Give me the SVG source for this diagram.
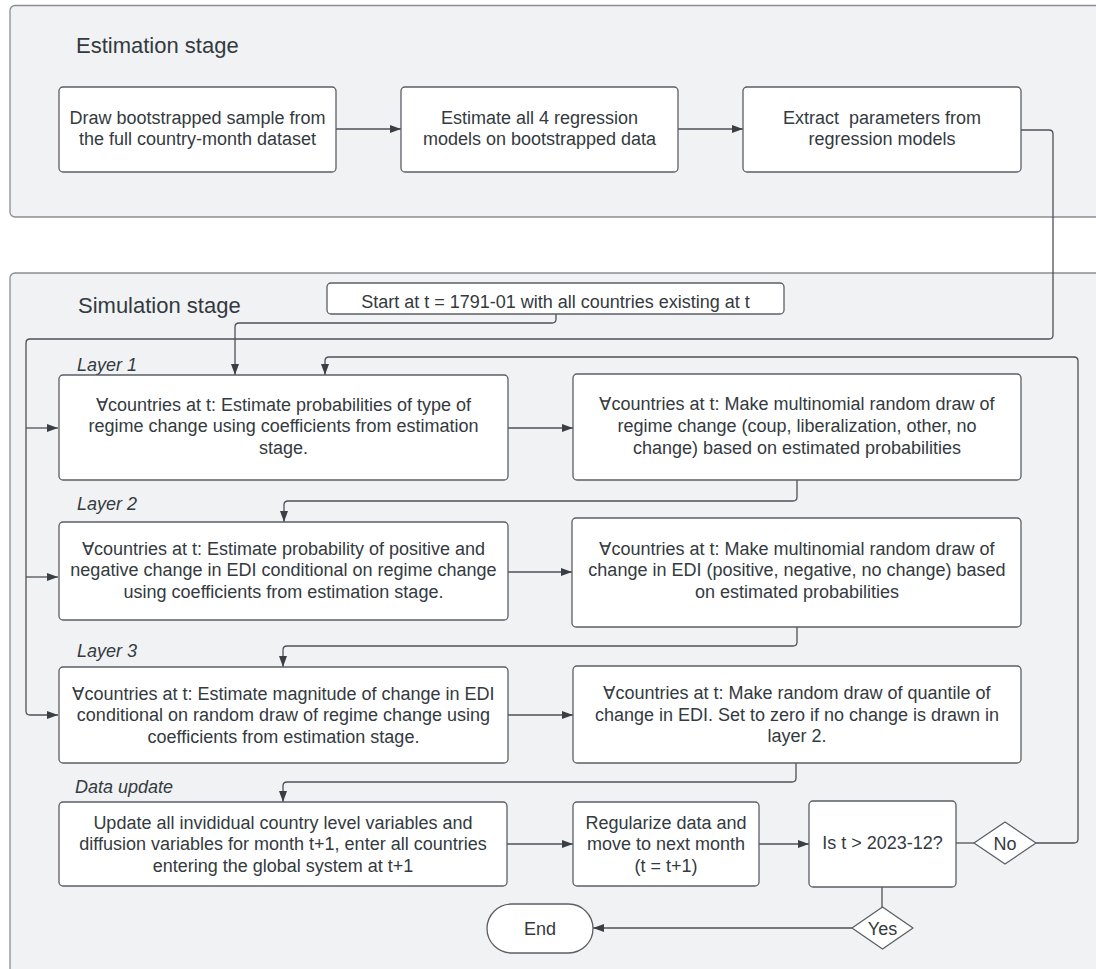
<svg xmlns="http://www.w3.org/2000/svg" width="1096" height="969" viewBox="0 0 1096 969">
<style>
  .cont { fill: #f1f2f4; stroke: #8a8d93; stroke-width: 1.3; }
  .box { fill: #ffffff; stroke: #5b5f66; stroke-width: 1.3; }
  .t { font-family: "Liberation Sans", Arial, sans-serif; font-size: 18px; fill: #333a40; text-anchor: middle; }
  .title { font-family: "Liberation Sans", Arial, sans-serif; font-size: 22px; fill: #333a40; }
  .lab { font-family: "Liberation Sans", Arial, sans-serif; font-size: 18px; font-style: italic; fill: #333a40; }
  .c { fill: none; stroke: #4d525a; stroke-width: 1.3; }
  .ca { fill: none; stroke: #4d525a; stroke-width: 1.3; marker-end: url(#ah); }
</style>
<defs>
  <marker id="ah" viewBox="0 0 11 8" markerWidth="11" markerHeight="8" refX="11" refY="4" orient="auto" markerUnits="userSpaceOnUse">
    <path d="M0,0 L11,4 L0,8 z" fill="#3a3f46"/>
  </marker>
</defs>
<rect x="0" y="0" width="1096" height="969" fill="#ffffff"/>

<g id="estimation-stage">
  <rect class="cont" x="10" y="5.5" width="1100" height="211.5" rx="5"/>
  <text class="title" x="76" y="53">Estimation stage</text>
</g>
<g id="simulation-stage">
  <rect class="cont" x="10" y="273" width="1100" height="720" rx="5"/>
  <text class="title" x="78" y="313">Simulation stage</text>
  <text class="lab" x="77" y="371">Layer 1</text>
  <text class="lab" x="77" y="510">Layer 2</text>
  <text class="lab" x="77" y="657">Layer 3</text>
  <text class="lab" x="75" y="793">Data update</text>
</g>

<g id="connectors">
  <path class="ca" d="M336,129 H401"/>
  <path class="ca" d="M678,129 H743"/>
  <path class="ca" d="M1021,130 H1049 Q1053,130 1053,134 V335 Q1053,339 1049,339 H30 Q26,339 26,343 V711 Q26,715 30,715 H58"/>
  <path class="ca" d="M26,428 H58"/>
  <path class="ca" d="M26,577 H58"/>
  <path class="ca" d="M556,314 V319 Q556,323 552,323 H239 Q235,323 235,327 V375"/>
  <path class="ca" d="M508,428 H573"/>
  <path class="ca" d="M797,480 V497 Q797,501 793,501 H288 Q284,501 284,505 V522"/>
  <path class="ca" d="M508,572 H572"/>
  <path class="ca" d="M797,627 V642 Q797,646 793,646 H287 Q283,646 283,650 V667"/>
  <path class="ca" d="M508,715 H573"/>
  <path class="ca" d="M796,763 V778 Q796,782 792,782 H287 Q283,782 283,786 V802"/>
  <path class="ca" d="M507,844 H573"/>
  <path class="ca" d="M759,844 H809"/>
  <path class="c" d="M956,843 H974"/>
  <path class="ca" d="M1036,843 H1074 Q1078,843 1078,839 V361 Q1078,357 1074,357 H329 Q325,357 325,361 V375"/>
  <path class="c" d="M882,887 V907"/>
  <path class="ca" d="M852,928 H593"/>
</g>

<g id="draw-sample">
  <rect class="box" x="59" y="87" width="277" height="85" rx="4"/>
  <text class="t" x="197.5" y="124">Draw bootstrapped sample from</text>
  <text class="t" x="197.5" y="145">the full country-month dataset</text>
</g>
<g id="estimate-models">
  <rect class="box" x="401" y="87" width="277" height="85" rx="4"/>
  <text class="t" x="539.5" y="124">Estimate all 4 regression</text>
  <text class="t" x="539.5" y="145">models on bootstrapped data</text>
</g>
<g id="extract-params">
  <rect class="box" x="743" y="87" width="278" height="85" rx="4"/>
  <text class="t" x="882" y="124" xml:space="preserve">Extract  parameters from</text>
  <text class="t" x="882" y="145">regression models</text>
</g>

<g id="start">
  <rect class="box" x="327" y="283" width="457" height="31" rx="4"/>
  <text class="t" x="555.5" y="308">Start at t = 1791-01 with all countries existing at t</text>
</g>

<g id="l1-estimate">
  <rect class="box" x="59" y="375" width="449" height="105" rx="4"/>
  <text class="t" x="283.5" y="410.5">∀countries at t: Estimate probabilities of type of</text>
  <text class="t" x="283.5" y="432">regime change using coefficients from estimation</text>
  <text class="t" x="283.5" y="453.5">stage.</text>
</g>
<g id="l1-draw">
  <rect class="box" x="573" y="374" width="448" height="106" rx="4"/>
  <text class="t" x="797" y="410">∀countries at t: Make multinomial random draw of</text>
  <text class="t" x="797" y="432">regime change (coup, liberalization, other, no</text>
  <text class="t" x="797" y="453.5">change) based on estimated probabilities</text>
</g>

<g id="l2-estimate">
  <rect class="box" x="59" y="522" width="449" height="98" rx="4"/>
  <text class="t" x="283.5" y="554.5">∀countries at t: Estimate probability of positive and</text>
  <text class="t" x="283.5" y="576">negative change in EDI conditional on regime change</text>
  <text class="t" x="283.5" y="597.5">using coefficients from estimation stage.</text>
</g>
<g id="l2-draw">
  <rect class="box" x="572" y="518" width="449" height="109" rx="4"/>
  <text class="t" x="797" y="554.5">∀countries at t: Make multinomial random draw of</text>
  <text class="t" x="797" y="576">change in EDI (positive, negative, no change) based</text>
  <text class="t" x="797" y="597.5">on estimated probabilities</text>
</g>

<g id="l3-estimate">
  <rect class="box" x="59" y="667" width="449" height="96" rx="4"/>
  <text class="t" x="283.5" y="699.5">∀countries at t: Estimate magnitude of change in EDI</text>
  <text class="t" x="283.5" y="721">conditional on random draw of regime change using</text>
  <text class="t" x="283.5" y="742.5">coefficients from estimation stage.</text>
</g>
<g id="l3-draw">
  <rect class="box" x="573" y="666" width="448" height="97" rx="4"/>
  <text class="t" x="797" y="699">∀countries at t: Make random draw of quantile of</text>
  <text class="t" x="797" y="720.5">change in EDI. Set to zero if no change is drawn in</text>
  <text class="t" x="797" y="742">layer 2.</text>
</g>

<g id="update">
  <rect class="box" x="59" y="802" width="448" height="84" rx="4"/>
  <text class="t" x="283" y="828.5">Update all invididual country level variables and</text>
  <text class="t" x="283" y="850">diffusion variables for month t+1, enter all countries</text>
  <text class="t" x="283" y="871.5">entering the global system at t+1</text>
</g>
<g id="regularize">
  <rect class="box" x="573" y="802" width="186" height="84" rx="4"/>
  <text class="t" x="666" y="828.5">Regularize data and</text>
  <text class="t" x="666" y="850">move to next month</text>
  <text class="t" x="666" y="871.5">(t = t+1)</text>
</g>
<g id="decision">
  <rect class="box" x="809" y="801" width="147" height="86" rx="4"/>
  <text class="t" x="882.5" y="848.5">Is t &gt; 2023-12?</text>
</g>
<g id="no">
  <path class="box" d="M974,843 L1005,822 L1036,843 L1005,864 Z" stroke-linejoin="round"/>
  <text class="t" x="1005" y="849.5">No</text>
</g>
<g id="yes">
  <path class="box" d="M852,928 L882.5,907 L913,928 L882.5,949 Z" stroke-linejoin="round"/>
  <text class="t" x="882.5" y="934.5">Yes</text>
</g>
<g id="end">
  <rect class="box" x="487" y="904" width="106" height="49" rx="24.5"/>
  <text class="t" x="540" y="934.5">End</text>
</g>
</svg>
